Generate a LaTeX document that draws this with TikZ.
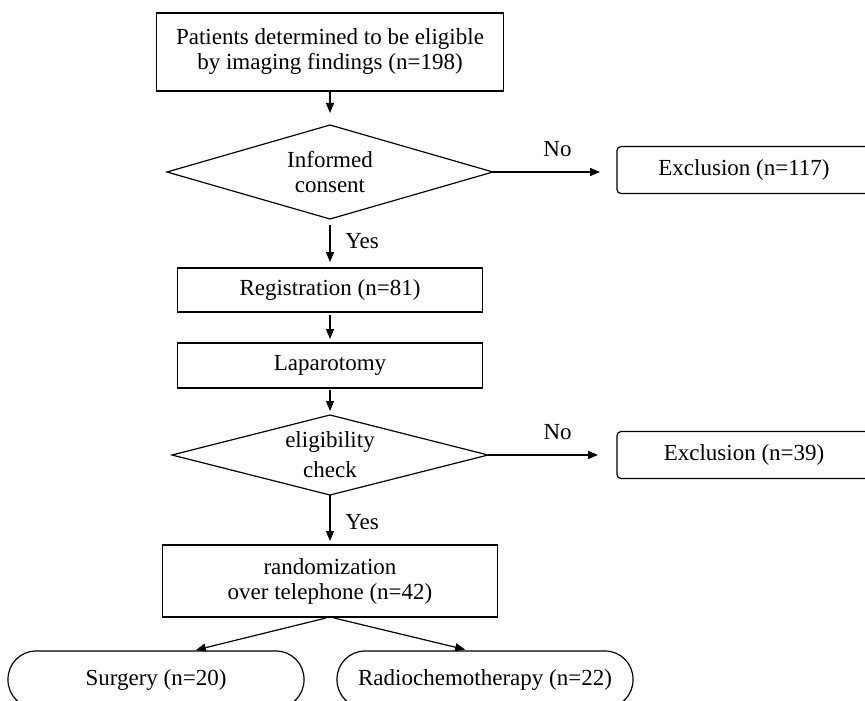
\documentclass[tikz,border=0pt]{standalone}
\usepackage{fontspec}
\setmainfont{Liberation Serif}
\usepackage{tikz}
\usetikzlibrary{shapes.geometric, positioning, arrows.meta}
\tikzset{
    flownode/.style={draw, line width=0.6pt, outer sep=0pt, align=center, font=\fontsize{11.5}{12.5}\selectfont},
    stepbox/.style={flownode, rectangle, inner sep=2pt},
    decision/.style={flownode, diamond, aspect=3, inner sep=0pt},
    exclbox/.style={flownode, rectangle, rounded corners=2pt, minimum width=127pt, minimum height=23.5pt},
    armbox/.style={flownode, rectangle, rounded corners=14pt, minimum width=148pt, minimum height=28.5pt},
    flowarrow/.style={-{Triangle[length=5pt,width=4pt]}, line width=0.6pt, shorten >=2pt},
    flowlabel/.style={font=\fontsize{11.5}{12.5}\selectfont}
}

\begin{document}
\begin{tikzpicture}
    \useasboundingbox (0,0) rectangle (432.5pt,-350pt);
    \clip (0,0) rectangle (432.5pt,-350pt);
    \node[stepbox, minimum width=173.5pt, minimum height=39pt] (elig) at (165pt,-26pt) {Patients determined to be eligible\\by imaging findings (n=198)};
    \node[decision, minimum width=163pt, minimum height=47pt, below=17pt of elig] (consent) {Informed\\consent};
    \node[exclbox, right=62pt of consent, yshift=1pt] (excl1) {Exclusion (n=117)};
    \node[stepbox, minimum width=152.5pt, minimum height=22pt, below=24.5pt of consent] (reg) {Registration (n=81)};
    \node[stepbox, minimum width=152.5pt, minimum height=22.5pt, below=15.5pt of reg] (lap) {Laparotomy};
    \node[decision, minimum width=158pt, minimum height=40pt, below=13.5pt of lap] (check) {eligibility\\[2.5pt]check};
    \node[exclbox, right=64.5pt of check] (excl2) {Exclusion (n=39)};
    \node[stepbox, minimum width=167.5pt, minimum height=36pt, below=25pt of check] (rand) {randomization\\over telephone (n=42)};
    \node[armbox, below=17pt of rand, xshift=-87pt] (surg) {Surgery (n=20)};
    \node[armbox, below=17pt of rand, xshift=77.5pt] (radio) {Radiochemotherapy (n=22)};

    \draw[flowarrow, shorten >=6pt] (elig) -- (consent);
    \draw[flowarrow, shorten >=8.5pt] (consent) -- node[flowlabel, above=4pt, pos=.52] {No} (excl1.west |- consent);
    \draw[flowarrow, shorten <=3pt, shorten >=3pt] (consent) -- node[flowlabel, right=4pt, pos=.45] {Yes} (reg);
    \draw[flowarrow, shorten <=1.5pt] (reg) -- (lap);
    \draw[flowarrow, shorten <=1pt] (lap) -- (check);
    \draw[flowarrow, shorten >=9.5pt] (check) -- node[flowlabel, above=4pt, pos=.54] {No} (excl2);
    \draw[flowarrow] (check) -- node[flowlabel, right=4pt, pos=.55] {Yes} (rand);
    \draw[flowarrow, shorten <=2pt] (rand.south) -- ([xshift=18pt]surg.north);
    \draw[flowarrow, shorten <=2pt, shorten >=3pt] (rand.south) -- ([xshift=-7pt]radio.north);
\end{tikzpicture}
\end{document}
